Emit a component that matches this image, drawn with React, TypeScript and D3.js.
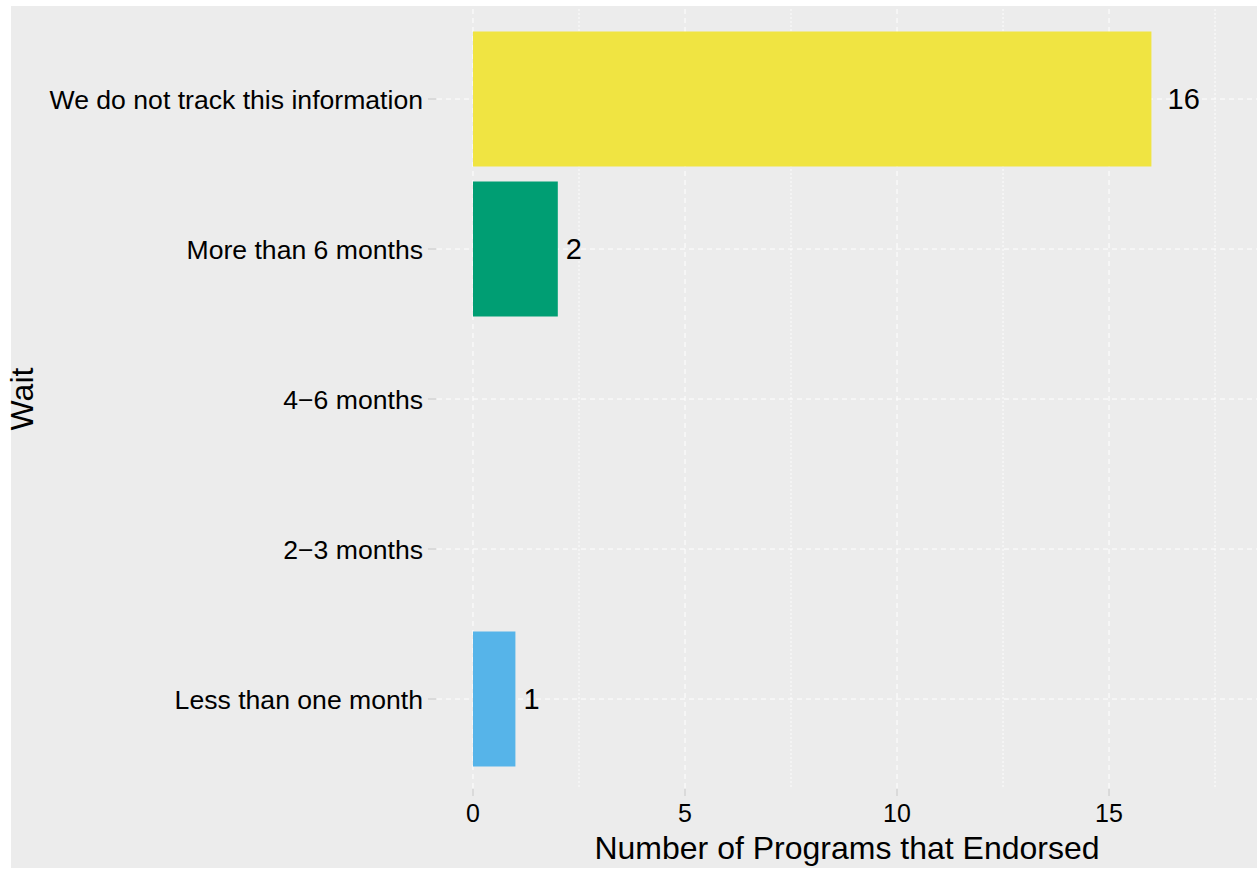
import React from "react";
import * as d3 from "d3";

const categories = [
  "We do not track this information",
  "More than 6 months",
  "4−6 months",
  "2−3 months",
  "Less than one month",
];
const counts: (number | null)[] = [16, 2, null, null, 1];
const barColors = ["#F0E442", "#009E73", "#E69F00", "#CC79A7", "#56B4E9"];
const xMajorTicks = [0, 5, 10, 15];
const xMinorTicks = [2.5, 7.5, 12.5, 17.5];
const xTitle = "Number of Programs that Endorsed";
const yTitle = "Wait";

const W = 1257;
const H = 869;
const FONT = "'Liberation Sans', Arial, Helvetica, sans-serif";

export default function App() {
  const panel = { left: 437, right: 1257, top: 9, bottom: 789 };
  const x = d3.scaleLinear().domain([-0.849, 18.49]).range([panel.left, panel.right]);
  const y = d3
    .scaleBand<string>()
    .domain(categories)
    .range([panel.top, panel.bottom])
    .paddingInner(0.1)
    .paddingOuter(0.15);
  const yc = (c: string) => (y(c) as number) + y.bandwidth() / 2;
  const labelFs = 29;

  return (
    <svg
      width={W}
      height={H}
      style={{ position: "absolute", left: 0, top: 0, fontFamily: FONT }}
    >
      <rect x={0} y={0} width={W} height={H} fill="#ffffff" />
      <rect x={11} y={6} width={W - 11} height={862} fill="#ECECEC" />
      {/* minor grid */}
      {xMinorTicks.map((t) => (
        <line
          key={"mn" + t}
          x1={x(t)}
          x2={x(t)}
          y1={panel.top}
          y2={panel.bottom}
          stroke="#ffffff"
          strokeWidth={0.9}
          strokeDasharray="2,2"
        />
      ))}
      {/* major grid */}
      {xMajorTicks.map((t) => (
        <line
          key={"mj" + t}
          x1={x(t)}
          x2={x(t)}
          y1={panel.top}
          y2={panel.bottom}
          stroke="#ffffff"
          strokeWidth={1}
          strokeDasharray="5,4"
        />
      ))}
      {categories.map((c) => (
        <line
          key={"hg" + c}
          x1={panel.left}
          x2={panel.right}
          y1={yc(c)}
          y2={yc(c)}
          stroke="#ffffff"
          strokeWidth={1}
          strokeDasharray="5,4"
        />
      ))}
      {/* bars */}
      {categories.map((c, i) =>
        counts[i] == null ? null : (
          <rect
            key={"b" + c}
            x={x(0)}
            y={y(c)}
            width={x(counts[i] as number) - x(0)}
            height={y.bandwidth()}
            fill={barColors[i]}
          />
        )
      )}
      {/* bar labels */}
      {categories.map((c, i) => {
        const v = counts[i];
        if (v == null) return null;
        const s = String(v);
        const w = s.length * 0.556 * labelFs;
        return (
          <text
            key={"l" + c}
            x={x(v) + w * 0.5}
            y={yc(c)}
            dy="0.36em"
            fontSize={labelFs}
            fill="#000"
          >
            {s}
          </text>
        );
      })}
      {/* y axis ticks and labels */}
      {categories.map((c) => (
        <g key={"yt" + c}>
          <line x1={428} x2={436} y1={yc(c)} y2={yc(c)} stroke="#C8C8C8" strokeWidth={1} />
          <text x={423} y={yc(c)} dy="0.36em" textAnchor="end" fontSize={26.6} fill="#000">
            {c}
          </text>
        </g>
      ))}
      {/* x axis ticks and labels */}
      {xMajorTicks.map((t) => (
        <g key={"xt" + t}>
          <line x1={x(t)} x2={x(t)} y1={789} y2={796} stroke="#C8C8C8" strokeWidth={1} />
          <text x={x(t)} y={822} textAnchor="middle" fontSize={25} fill="#000">
            {t}
          </text>
        </g>
      ))}
      <text
        x={(panel.left + panel.right) / 2}
        y={859}
        textAnchor="middle"
        fontSize={32}
        fill="#000"
      >
        {xTitle}
      </text>
      <text
        transform={`translate(33, ${(panel.top + panel.bottom) / 2}) rotate(-90)`}
        textAnchor="middle"
        fontSize={32}
        fill="#000"
      >
        {yTitle}
      </text>
    </svg>
  );
}
